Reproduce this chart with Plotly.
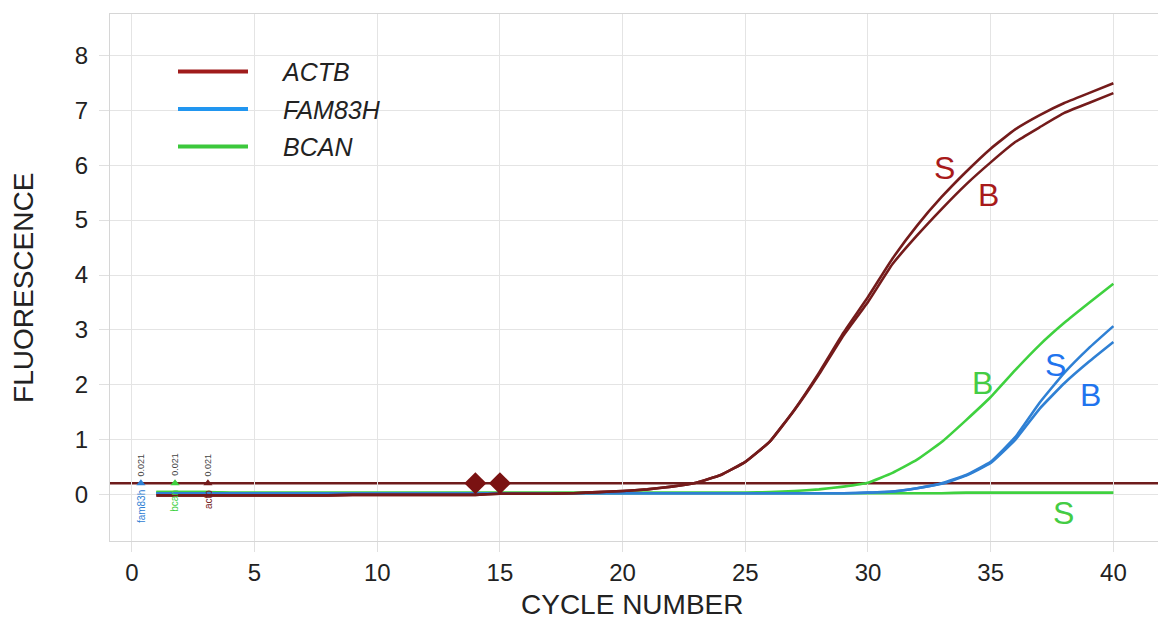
import plotly.graph_objects as go

# ---------------- data ----------------
cycles = list(range(1, 41))

actb_S = [-0.01, -0.01, -0.01, -0.01, -0.01, -0.01, -0.01, -0.01, 0.0, 0.0,
          0.0, 0.0, 0.0, 0.0, 0.02, 0.02, 0.02, 0.03, 0.05, 0.07,
          0.1, 0.15, 0.22, 0.36, 0.6, 0.97, 1.55, 2.22, 2.95, 3.6,
          4.3, 4.9, 5.42, 5.88, 6.3, 6.65, 6.91, 7.13, 7.31, 7.49]
actb_B = [-0.01, -0.01, -0.01, -0.01, -0.01, -0.01, -0.01, -0.01, 0.0, 0.0,
          0.0, 0.0, 0.0, 0.0, 0.02, 0.02, 0.02, 0.03, 0.05, 0.07,
          0.1, 0.15, 0.22, 0.36, 0.6, 0.97, 1.54, 2.19, 2.9, 3.51,
          4.2, 4.72, 5.2, 5.65, 6.05, 6.42, 6.69, 6.95, 7.13, 7.31]
fam83h_S = [0.03, 0.03, 0.03, 0.03, 0.03, 0.03, 0.03, 0.03, 0.03, 0.03,
            0.03, 0.03, 0.03, 0.03, 0.03, 0.03, 0.03, 0.03, 0.03, 0.03,
            0.03, 0.03, 0.03, 0.03, 0.03, 0.03, 0.03, 0.03, 0.03, 0.04,
            0.06, 0.12, 0.21, 0.36, 0.6, 1.05, 1.68, 2.22, 2.67, 3.07]
fam83h_B = [0.03, 0.03, 0.03, 0.03, 0.03, 0.03, 0.03, 0.03, 0.03, 0.03,
            0.03, 0.03, 0.03, 0.03, 0.03, 0.03, 0.03, 0.03, 0.03, 0.03,
            0.03, 0.03, 0.03, 0.03, 0.03, 0.03, 0.03, 0.03, 0.03, 0.04,
            0.06, 0.12, 0.2, 0.35, 0.58, 1.0, 1.57, 2.03, 2.42, 2.78]
bcan_S = [0.05, 0.05, 0.05, 0.03, 0.03, 0.03, 0.03, 0.03, 0.03, 0.03,
          0.03, 0.03, 0.03, 0.03, 0.03, 0.03, 0.03, 0.03, 0.03, 0.03,
          0.03, 0.03, 0.03, 0.03, 0.03, 0.03, 0.03, 0.03, 0.03, 0.03,
          0.03, 0.03, 0.03, 0.04, 0.04, 0.04, 0.04, 0.04, 0.04, 0.04]
bcan_B = [0.05, 0.05, 0.05, 0.04, 0.04, 0.04, 0.04, 0.04, 0.04, 0.04,
          0.04, 0.04, 0.04, 0.04, 0.04, 0.04, 0.04, 0.04, 0.04, 0.04,
          0.04, 0.04, 0.04, 0.04, 0.04, 0.05, 0.07, 0.1, 0.15, 0.22,
          0.4, 0.64, 0.96, 1.36, 1.78, 2.27, 2.73, 3.13, 3.49, 3.84]

threshold = 0.21
threshold_marks_x = [14, 15]

gene_names = ["ACTB", "FAM83H", "BCAN"]
sample_labels = ["S", "B"]

# small baseline markers in the lower-left corner
mini_x = [0.37, 1.76, 3.1]
mini_names = ["fam83h", "bcan", "actb"]
mini_value = "0.021"

x_ticks = [0, 5, 10, 15, 20, 25, 30, 35, 40]
y_ticks = [0, 1, 2, 3, 4, 5, 6, 7, 8]

x_title = "CYCLE NUMBER"
y_title = "FLUORESCENCE"

# S/B label positions (cycle, fluorescence)
label_pos = {
    ("ACTB", "S"): (33.1, 5.95),
    ("ACTB", "B"): (34.9, 5.45),
    ("BCAN", "B"): (34.65, 2.03),
    ("FAM83H", "S"): (37.65, 2.37),
    ("FAM83H", "B"): (39.05, 1.82),
    ("BCAN", "S"): (37.95, -0.33),
}

# ---------------- styles ----------------
curve_col = {"ACTB": "#741b1b", "FAM83H": "#2f80d4", "BCAN": "#3fd13f"}
legend_col = {"ACTB": "#a01c1c", "FAM83H": "#2196f0", "BCAN": "#3cc83c"}
label_col = {"ACTB": "#a81a1a", "FAM83H": "#1f74ee", "BCAN": "#44cc44"}
FONT = "Liberation Sans, Arial, sans-serif"

fig = go.Figure()

series = [
    ("BCAN", "B", bcan_B), ("BCAN", "S", bcan_S),
    ("FAM83H", "B", fam83h_B), ("FAM83H", "S", fam83h_S),
    ("ACTB", "B", actb_B), ("ACTB", "S", actb_S),
]
for gene, samp, vals in series:
    fig.add_trace(go.Scatter(
        x=cycles, y=vals, mode="lines",
        line=dict(color=curve_col[gene], width=2.6, shape="spline", smoothing=0.35),
        showlegend=False, hoverinfo="x+y", name=f"{gene} {samp}"))

fig.add_hline(y=threshold, line=dict(color="#6e1c1c", width=2.6), layer="below")

fig.add_trace(go.Scatter(
    x=threshold_marks_x, y=[threshold] * len(threshold_marks_x), mode="markers",
    marker=dict(symbol="diamond", size=17, color="#7a1212"),
    showlegend=False, hoverinfo="skip"))

mini_cols = [curve_col["FAM83H"], curve_col["BCAN"], curve_col["ACTB"]]
fig.add_trace(go.Scatter(
    x=mini_x, y=[threshold] * 3, mode="markers",
    marker=dict(symbol="triangle-up", size=8, color=mini_cols),
    showlegend=False, hoverinfo="skip"))
for xv, nm, c in zip(mini_x, mini_names, mini_cols):
    fig.add_annotation(x=xv, y=0.55, text=mini_value, showarrow=False, textangle=-90,
                       font=dict(family=FONT, size=9, color="#444"))
    fig.add_annotation(x=xv, y=0.13, yanchor="top", text=nm, showarrow=False, textangle=-90,
                       font=dict(family=FONT, size=10, color=c))

for g in gene_names:
    fig.add_trace(go.Scatter(
        x=[None], y=[None], mode="lines", name="\u2003\u2009<i>" + g + "</i>",
        line=dict(color=legend_col[g], width=4), legendgroup=g))

for (gene, samp), (xv, yv) in label_pos.items():
    fig.add_annotation(x=xv, y=yv, text=samp, showarrow=False,
                       font=dict(family=FONT, size=32, color=label_col[gene]))

# axis titles
fig.add_annotation(xref="paper", yref="paper", x=0.497, y=-0.121, text=x_title,
                   showarrow=False, xanchor="center", yanchor="middle",
                   font=dict(family=FONT, size=28, color="#222"))
fig.add_annotation(xref="paper", yref="paper", x=-0.083, y=0.48, text=y_title,
                   showarrow=False, xanchor="center", yanchor="middle", textangle=-90,
                   font=dict(family=FONT, size=28, color="#222"))

axis_common = dict(
    showgrid=True, gridcolor="#e4e4e4", gridwidth=1,
    showline=True, linecolor="#d6d6d6", linewidth=1, mirror=True,
    ticks="outside", ticklen=10, tickcolor="#e0e0e0",
    zeroline=False, tickfont=dict(family=FONT, size=24, color="#222"),
    automargin=False,
)
fig.update_xaxes(range=[-0.89, 41.9], tickvals=x_ticks, ticklabelstandoff=0, **axis_common)
fig.update_yaxes(range=[-0.84, 8.75], tickvals=y_ticks, ticklabelstandoff=6, **axis_common)

fig.update_layout(
    width=1158, height=613, autosize=False,
    margin=dict(l=102, r=6, t=6, b=80),
    paper_bgcolor="white", plot_bgcolor="white",
    font=dict(family=FONT),
    legend=dict(x=0.060, y=0.934, xanchor="left", yanchor="top",
                bgcolor="rgba(0,0,0,0)", font=dict(family=FONT, size=25, color="#222"),
                itemwidth=70, tracegroupgap=2),
    showlegend=True,
)

fig.write_html("out.html")
